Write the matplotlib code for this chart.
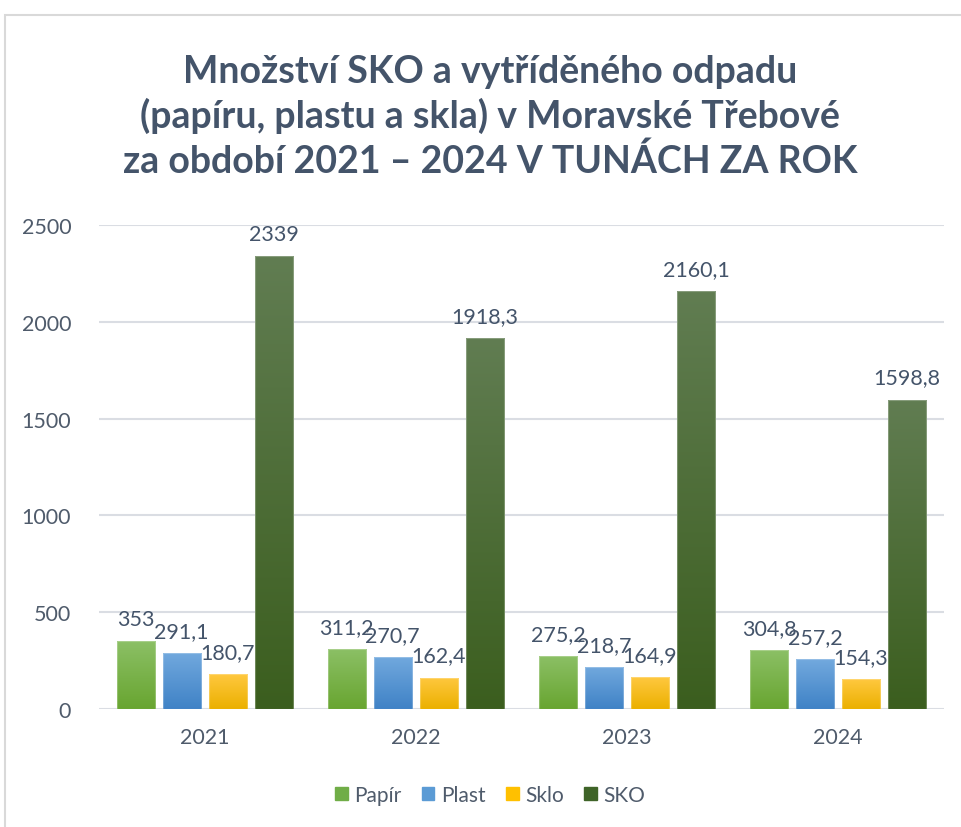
import numpy as np
import matplotlib.pyplot as plt
from matplotlib.colors import LinearSegmentedColormap
from matplotlib.patches import Rectangle

# data
roky = ["2021", "2022", "2023", "2024"]
papir = [353, 311.2, 275.2, 304.8]
plast = [291.1, 270.7, 218.7, 257.2]
sklo = [180.7, 162.4, 164.9, 154.3]
sko = [2339, 1918.3, 2160.1, 1598.8]
serie_nazvy = ["Papír", "Plast", "Sklo", "SKO"]

# barvy: (horní, dolní, legenda)
barvy = [
    ("#8cc066", "#68a530", "#70ad47"),
    ("#72a9de", "#3f82c6", "#5b9bd5"),
    ("#ffc83f", "#ebb000", "#ffc000"),
    ("#617d52", "#3b5e1e", "#3f6428"),
]

text_barva = "#44546a"
osa_barva = "#4f5b6b"
plt.rcParams['font.family'] = ['Lato', 'DejaVu Sans']

fig = plt.figure(figsize=(9.61, 8.28), dpi=100)
ax = fig.add_axes([0.103, 0.1425, 0.879, 0.5845])

# rámeček grafu
fig.patches.append(Rectangle((5 / 961, -0.05), 1.1, 1 - 16 / 828 + 0.05,
                             transform=fig.transFigure, fill=False,
                             edgecolor="#d9d9d9", linewidth=1.5))

x = np.arange(len(roky))
krok = 0.218
sirka = 0.18
gradient = np.linspace(0, 1, 256).reshape(-1, 1)

for i, hodnoty in enumerate([papir, plast, sklo, sko]):
    horni, dolni, leg = barvy[i]
    cmap = LinearSegmentedColormap.from_list("g%d" % i, [dolni, horni])
    pozice = x + (i - 1.5) * krok
    bars = ax.bar(pozice, hodnoty, width=sirka, color=leg, label=serie_nazvy[i],
                  edgecolor="none", zorder=2)
    for b, v in zip(bars, hodnoty):
        x0 = b.get_x()
        im = ax.imshow(gradient, extent=[x0, x0 + sirka, 0, v], origin="lower",
                       cmap=cmap, aspect="auto", zorder=2.5)
        im.set_clip_path(b)
        ax.add_patch(Rectangle((x0, 0), sirka, v, fill=False,
                               edgecolor=(1, 1, 1, 0.25), linewidth=0.8, zorder=3))
        txt = ("%g" % v).replace(".", ",")
        ax.text(b.get_x() + sirka / 2, v + 62, txt, ha="center", va="bottom",
                fontsize=15.5, color=text_barva, zorder=4)

ax.set_xlim(-0.5, 3.5)
ax.set_ylim(0, 2500)
ax.set_xticks(x)
ax.set_xticklabels(roky)
ax.set_yticks([0, 500, 1000, 1500, 2000, 2500])
ax.tick_params(axis="both", length=0, labelsize=15.5, colors=osa_barva)
ax.tick_params(axis="x", pad=13)
ax.tick_params(axis="y", pad=20)
ax.grid(axis="y", color="#dadde3", linewidth=1.5, zorder=0)
ax.set_axisbelow(True)
for s in ax.spines.values():
    s.set_visible(False)

fig.text(0.51, 0.859, "Množství SKO a vytříděného odpadu\n(papíru, plastu a skla) v Moravské Třebové\nza období 2021 – 2024 V TUNÁCH ZA ROK",
         ha="center", va="center", fontsize=27, fontweight="bold",
         color=text_barva, linespacing=1.3)

handles = [Rectangle((0, 0), 1, 1, color=b[2]) for b in barvy]
fig.legend(handles, serie_nazvy, loc="center", bbox_to_anchor=(0.51, 0.039),
           ncol=4, frameon=False, fontsize=15, handlelength=0.6,
           handleheight=0.6, handletextpad=0.3, columnspacing=1.0,
           labelcolor=osa_barva)

fig.savefig("out.png", dpi=100)
